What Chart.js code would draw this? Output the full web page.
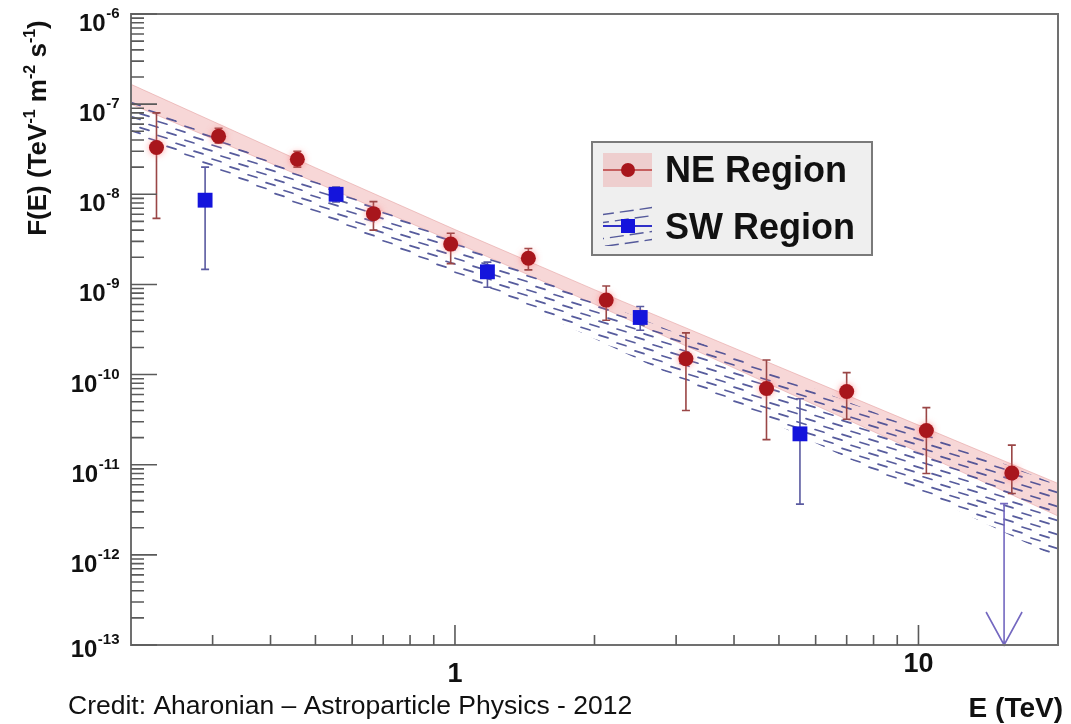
<!DOCTYPE html>
<html>
<head>
<meta charset="utf-8">
<script src="https://cdn.jsdelivr.net/npm/chart.js@4.4.0/dist/chart.umd.min.js"></script>
<style>
  html, body { margin: 0; padding: 0; background: #fff; }
  #wrap { width: 1071px; height: 724px; position: relative; }
</style>
</head>
<body>
<div id="wrap"><canvas id="spec" width="1071" height="724"></canvas></div>
<script>
// NE region flux points (E in TeV, F in TeV^-1 m^-2 s^-1)
const neE  = [0.227, 0.309, 0.457, 0.667, 0.979, 1.44, 2.12, 3.15, 4.70, 7.0, 10.4, 15.9];
const neF  = [3.3e-8, 4.4e-8, 2.45e-8, 6.1e-9, 2.8e-9, 1.95e-9, 6.7e-10, 1.5e-10, 7.0e-11, 6.5e-11, 2.4e-11, 8.1e-12];
const neHi = [8.0e-8, 5.4e-8, 3.0e-8, 8.3e-9, 3.7e-9, 2.5e-9, 9.6e-10, 2.9e-10, 1.45e-10, 1.05e-10, 4.3e-11, 1.65e-11];
const neLo = [5.4e-9, 3.7e-8, 2.0e-8, 4.0e-9, 1.7e-9, 1.45e-9, 4.0e-10, 4.0e-11, 1.9e-11, 3.2e-11, 8.0e-12, 4.8e-12];

// SW region flux points
const swE  = [0.289, 0.554, 1.175, 2.51, 5.55];
const swF  = [8.6e-9, 1.0e-8, 1.38e-9, 4.3e-10, 2.2e-11];
const swHi = [2.0e-8, 1.2e-8, 1.77e-9, 5.7e-10, 5.4e-11];
const swLo = [1.47e-9, 8.2e-9, 9.3e-10, 3.1e-10, 3.65e-12];

// SW upper limit
const ulE = [15.3];
const ulF = [3.7e-12];

// power-law fit bands
const bandE    = [0.2, 0.5, 1, 2, 5, 10, 20];
const neBandHi = [1.66e-7, 1.97e-8, 4.06e-9, 8.74e-10, 1.22e-10, 2.75e-11, 6.2e-12];
const neBandLo = [1.0e-7, 1.36e-8, 2.93e-9, 6.05e-10, 7.0e-11, 1.38e-11, 2.7e-12];
const swBandHi = [1.1e-7, 1.4e-8, 3.0e-9, 6.7e-10, 1.0e-10, 2.45e-11, 5.9e-12];
const swBandLo = [4.8e-8, 6.2e-9, 1.3e-9, 2.5e-10, 2.7e-11, 5.0e-12, 9.2e-13];

// axis labels
const yDecades = [-13, -12, -11, -10, -9, -8, -7, -6];
const xLabels = ['1', '10'];
const xLabelVals = [1, 10];

const FONT = '"Liberation Sans", Arial, Helvetica, sans-serif';
const RED = '#a8161c';
const BLUE = '#1414dc';
const PINK = 'rgba(236,160,160,0.42)';
const HATCH = 'rgba(58,64,140,0.85)';

const pts = (xs, ys) => xs.map((x, i) => ({ x: x, y: ys[i] }));

function bandPath(ctx, sx, sy, hi, lo) {
    ctx.beginPath();
    bandE.forEach((e, i) => {
        const px = sx.getPixelForValue(e), py = sy.getPixelForValue(hi[i]);
        if (i === 0) ctx.moveTo(px, py); else ctx.lineTo(px, py);
    });
    for (let i = bandE.length - 1; i >= 0; i--) {
        ctx.lineTo(sx.getPixelForValue(bandE[i]), sy.getPixelForValue(lo[i]));
    }
    ctx.closePath();
}

function drawHatch(ctx, sx, sy, area, hi, lo) {
    ctx.save();
    ctx.beginPath();
    ctx.rect(area.left, area.top, area.right - area.left, area.bottom - area.top);
    ctx.clip();
    bandPath(ctx, sx, sy, hi, lo);
    ctx.clip();
    // staggered rows of short dashes running down the band
    const x0 = area.left, x1 = area.right;
    const n = bandE.length - 1;
    const y0 = (sy.getPixelForValue(hi[0]) + sy.getPixelForValue(lo[0])) / 2;
    const y1 = (sy.getPixelForValue(hi[n]) + sy.getPixelForValue(lo[n])) / 2;
    const m = (y1 - y0) / (x1 - x0);
    ctx.strokeStyle = HATCH;
    ctx.lineWidth = 1.7;
    ctx.lineCap = 'round';
    for (let k = -14; k <= 14; k++) {
        const off = k * 7;
        const shift = (k * 9) % 18;
        for (let x = x0 - 18 + shift; x < x1; x += 18) {
            const y = y0 + m * (x - x0) + off;
            ctx.beginPath();
            ctx.moveTo(x, y);
            ctx.lineTo(x + 9, y + 9 * m * 0.7);
            ctx.stroke();
        }
    }
    ctx.restore();
}

function errBars(ctx, sx, sy, E, hi, lo, color) {
    ctx.save();
    ctx.strokeStyle = color;
    ctx.lineWidth = 1.6;
    E.forEach((e, i) => {
        const x = sx.getPixelForValue(e);
        const yt = sy.getPixelForValue(hi[i]);
        const yb = sy.getPixelForValue(lo[i]);
        ctx.beginPath();
        ctx.moveTo(x, yt); ctx.lineTo(x, yb);
        ctx.moveTo(x - 4, yt); ctx.lineTo(x + 4, yt);
        ctx.moveTo(x - 4, yb); ctx.lineTo(x + 4, yb);
        ctx.stroke();
    });
    ctx.restore();
}

const markPlugin = {
    id: 'marks',
    beforeDatasetDraw(chart, args) {
        const ctx = chart.ctx, sx = chart.scales.x, sy = chart.scales.y;
        if (args.index === 1) {
            drawHatch(ctx, sx, sy, chart.chartArea, swBandHi, swBandLo);
            errBars(ctx, sx, sy, neE, neHi, neLo, '#9a4646');
            errBars(ctx, sx, sy, swE, swHi, swLo, '#5a5aa0');
            // upper limit arrow
            ctx.save();
            ctx.strokeStyle = '#7468c0';
            ctx.lineWidth = 1.6;
            ulE.forEach((e, i) => {
                const x = sx.getPixelForValue(e);
                const yt = sy.getPixelForValue(ulF[i]);
                const yb = chart.chartArea.bottom;
                ctx.beginPath();
                ctx.moveTo(x, yt); ctx.lineTo(x, yb);
                ctx.moveTo(x - 4, yt); ctx.lineTo(x + 4, yt);
                ctx.moveTo(x - 18, yb - 33); ctx.lineTo(x, yb); ctx.lineTo(x + 18, yb - 33);
                ctx.stroke();
            });
            ctx.restore();
        }
        if (args.index === 0) {
            ctx.shadowColor = 'rgba(255,120,120,0.7)';
            ctx.shadowBlur = 6;
        }
    },
    afterDatasetDraw(chart, args) {
        if (args.index === 0) {
            chart.ctx.shadowColor = 'rgba(0,0,0,0)';
            chart.ctx.shadowBlur = 0;
        }
    },
    afterDraw(chart) {
        const ctx = chart.ctx, sx = chart.scales.x, sy = chart.scales.y;
        const a = chart.chartArea;
        ctx.save();
        // frame
        ctx.strokeStyle = '#707070';
        ctx.lineWidth = 2;
        ctx.strokeRect(a.left, a.top, a.right - a.left, a.bottom - a.top);

        // y ticks
        ctx.lineWidth = 1.6;
        ctx.strokeStyle = '#5a5a5a';
        ctx.beginPath();
        yDecades.forEach((d) => {
            const y = sy.getPixelForValue(Math.pow(10, d));
            ctx.moveTo(a.left, y); ctx.lineTo(a.left + 26, y);
            if (d < -6) {
                for (let k = 2; k <= 9; k++) {
                    const ym = sy.getPixelForValue(k * Math.pow(10, d));
                    ctx.moveTo(a.left, ym); ctx.lineTo(a.left + 13, ym);
                }
            }
        });
        // x ticks
        const xMinor = [0.3, 0.4, 0.5, 0.6, 0.7, 0.8, 0.9, 2, 3, 4, 5, 6, 7, 8, 9];
        xMinor.forEach((v) => {
            const x = sx.getPixelForValue(v);
            ctx.moveTo(x, a.bottom); ctx.lineTo(x, a.bottom - 10);
        });
        xLabelVals.forEach((v) => {
            const x = sx.getPixelForValue(v);
            ctx.moveTo(x, a.bottom); ctx.lineTo(x, a.bottom - 20);
        });
        ctx.stroke();

        // y tick labels 10^n
        ctx.fillStyle = '#111';
        ctx.textBaseline = 'alphabetic';
        ctx.textAlign = 'left';
        yDecades.forEach((d) => {
            const y = sy.getPixelForValue(Math.pow(10, d));
            const base = Math.min(y + 17, 657);
            ctx.font = 'bold 24px ' + FONT;
            const w1 = ctx.measureText('10').width;
            ctx.font = 'bold 15px ' + FONT;
            const exp = String(d);
            const w2 = ctx.measureText(exp).width;
            const left = 119 - w1 - w2;
            ctx.font = 'bold 24px ' + FONT;
            ctx.fillText('10', left, base);
            ctx.font = 'bold 15px ' + FONT;
            ctx.fillText(exp, left + w1 + 0.5, base - 13);
        });

        // x tick labels
        ctx.font = 'bold 27px ' + FONT;
        ctx.textAlign = 'center';
        const xBase = [682, 672];
        xLabelVals.forEach((v, i) => {
            ctx.fillText(xLabels[i], sx.getPixelForValue(v), xBase[i]);
        });

        // x title
        ctx.textAlign = 'right';
        ctx.font = 'bold 28px ' + FONT;
        ctx.fillText('E (TeV)', 1063, 717);

        // y title with superscripts
        const parts = [['F(E) (TeV', 0], ['-1', 1], [' m', 0], ['-2', 1], [' s', 0], ['-1', 1], [')', 0]];
        const big = 'bold 26px ' + FONT, small = 'bold 16px ' + FONT;
        let total = 0;
        parts.forEach((p) => { ctx.font = p[1] ? small : big; total += ctx.measureText(p[0]).width; });
        ctx.save();
        ctx.translate(46, 128);
        ctx.rotate(-Math.PI / 2);
        ctx.textAlign = 'left';
        let cx = -total / 2;
        parts.forEach((p) => {
            ctx.font = p[1] ? small : big;
            ctx.fillText(p[0], cx, p[1] ? -11 : 0);
            cx += ctx.measureText(p[0]).width;
        });
        ctx.restore();

        // legend
        const lx = 592, ly = 142, lw = 280, lh = 113;
        ctx.fillStyle = '#efefef';
        ctx.fillRect(lx, ly, lw, lh);
        ctx.strokeStyle = '#7a7a7a';
        ctx.lineWidth = 2;
        ctx.strokeRect(lx, ly, lw, lh);

        // NE entry
        ctx.fillStyle = PINK;
        ctx.fillRect(603, 153, 49, 34);
        ctx.strokeStyle = '#b83a3a';
        ctx.lineWidth = 1.6;
        ctx.beginPath(); ctx.moveTo(603, 170); ctx.lineTo(652, 170); ctx.stroke();
        ctx.fillStyle = RED;
        ctx.beginPath(); ctx.arc(628, 170, 7, 0, Math.PI * 2); ctx.fill();

        // SW entry
        ctx.save();
        ctx.beginPath(); ctx.rect(603, 206, 49, 40); ctx.clip();
        ctx.strokeStyle = HATCH;
        ctx.lineWidth = 1.4;
        ctx.setLineDash([14, 6]);
        [-14, -6, 10, 18].forEach((o, k) => {
            ctx.lineDashOffset = k * 5;
            ctx.beginPath(); ctx.moveTo(600, 229 + o); ctx.lineTo(656, 221 + o); ctx.stroke();
        });
        ctx.restore();
        ctx.strokeStyle = '#3030c8';
        ctx.lineWidth = 1.8;
        ctx.beginPath(); ctx.moveTo(603, 226); ctx.lineTo(652, 226); ctx.stroke();
        ctx.fillStyle = BLUE;
        ctx.fillRect(621, 219, 14, 14);

        ctx.fillStyle = '#111';
        ctx.textAlign = 'left';
        ctx.font = 'bold 36px ' + FONT;
        ctx.fillText('NE Region', 665, 182);
        ctx.fillText('SW Region', 665, 239);

        // credit line
        ctx.font = '26.5px ' + FONT;
        ctx.fillStyle = '#111';
        ctx.fillText('Credit: Aharonian \u2013 Astroparticle Physics - 2012', 68, 714);
        ctx.restore();
    }
};

new Chart(document.getElementById('spec'), {
    type: 'scatter',
    data: {
        datasets: [
            {
                label: 'NE Region',
                data: pts(neE, neF),
                pointStyle: 'circle',
                pointRadius: 7.5,
                backgroundColor: RED,
                borderColor: RED,
                borderWidth: 0
            },
            {
                label: 'SW Region',
                data: pts(swE, swF),
                pointStyle: 'rect',
                pointRadius: 10.5,
                backgroundColor: BLUE,
                borderColor: BLUE,
                borderWidth: 0
            },
            {
                label: 'NE fit upper',
                type: 'line',
                data: pts(bandE, neBandHi),
                pointRadius: 0,
                borderWidth: 1,
                borderColor: 'rgba(225,150,150,0.5)',
                backgroundColor: PINK,
                fill: '+1',
                tension: 0
            },
            {
                label: 'NE fit lower',
                type: 'line',
                data: pts(bandE, neBandLo),
                pointRadius: 0,
                borderWidth: 1,
                borderColor: 'rgba(225,150,150,0.5)',
                fill: false,
                tension: 0
            }
        ]
    },
    options: {
        responsive: false,
        animation: false,
        devicePixelRatio: 1,
        layout: { padding: { left: 131, top: 14, right: 13, bottom: 79 } },
        plugins: {
            legend: { display: false },
            tooltip: { enabled: false }
        },
        scales: {
            x: { type: 'logarithmic', min: 0.2, max: 20, display: false },
            y: { type: 'logarithmic', min: 1e-13, max: 1e-6, display: false }
        }
    },
    plugins: [markPlugin]
});
</script>
</body>
</html>
